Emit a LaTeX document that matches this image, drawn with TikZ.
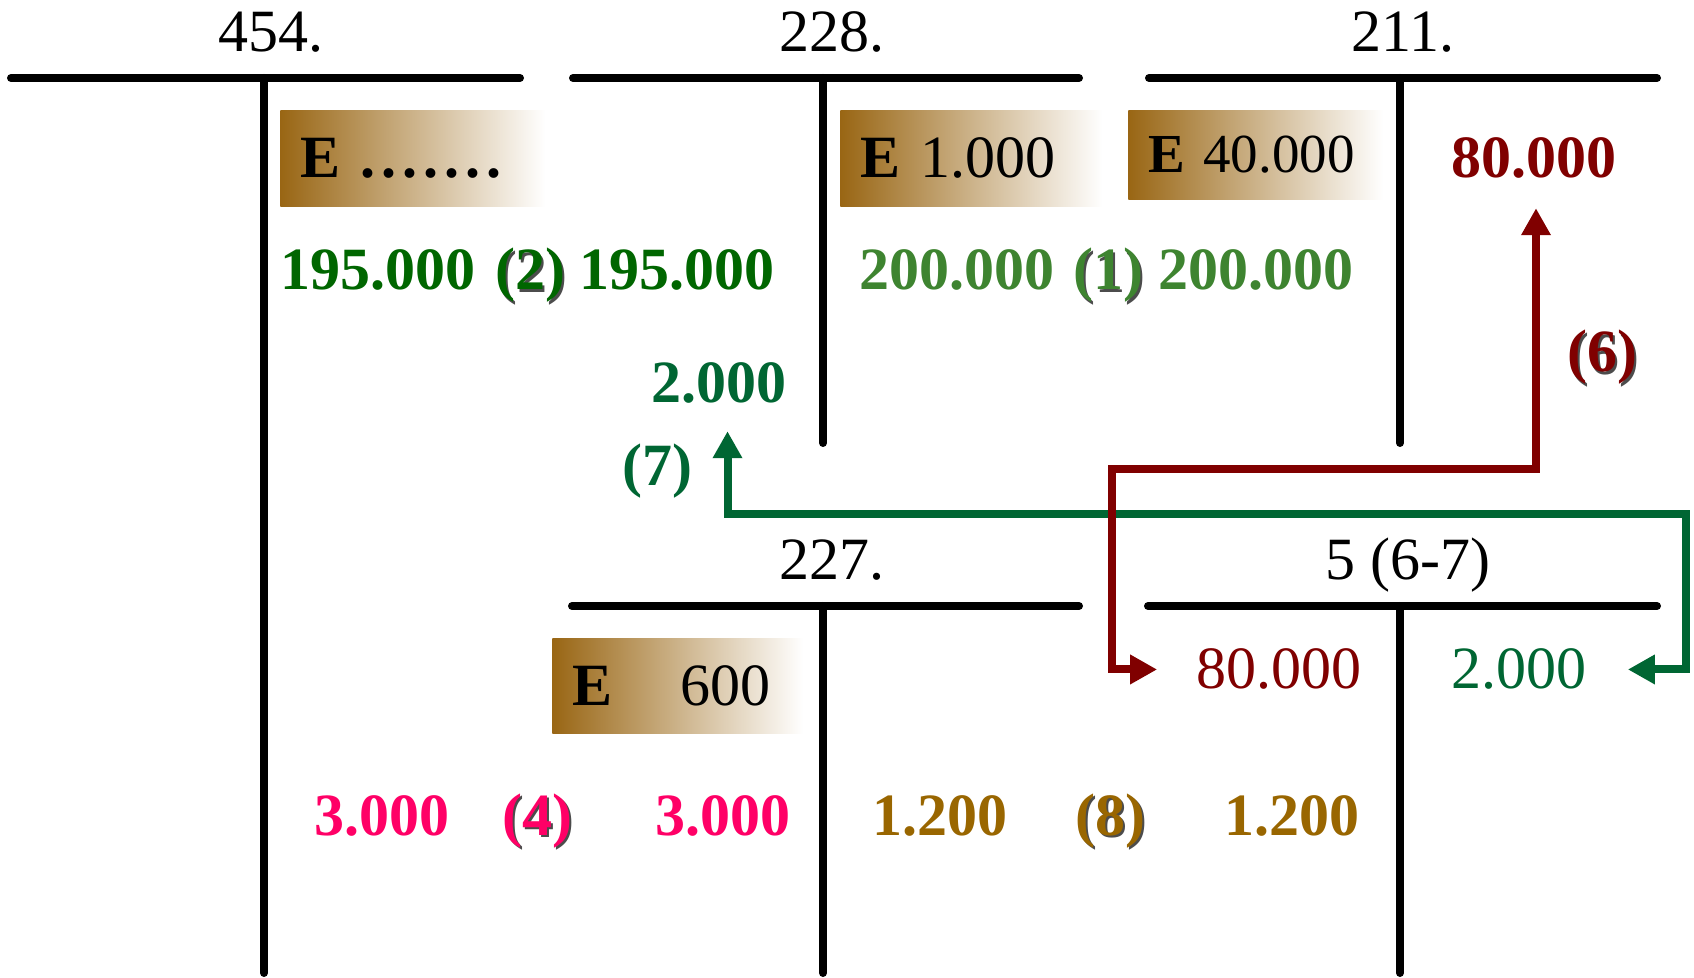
\documentclass[tikz,border=0pt]{standalone}
\usepackage{fontspec}
\setmainfont{Liberation Serif}
\usetikzlibrary{arrows.meta}

\definecolor{boxbrown}{RGB}{153,102,20}
\definecolor{darkgreen}{RGB}{0,102,0}
\definecolor{softgreen}{RGB}{62,132,48}
\definecolor{flowgreen}{RGB}{0,102,51}
\definecolor{flowred}{RGB}{128,0,0}
\definecolor{hotpink}{RGB}{255,0,102}
\definecolor{goldbrown}{RGB}{153,102,0}

\newcommand{\shadowtext}[1]{\rlap{\kern1.2pt\raisebox{-1.2pt}{\color{black!70}#1}}#1}

\begin{document}
\begin{tikzpicture}[x=0.5pt, y=-0.5pt,
            tline/.style={line width=4pt, line cap=round},
            titlenode/.style={anchor=base, inner sep=0pt, font=\fontsize{30}{34}\selectfont},
            amountnode/.style={anchor=base, inner sep=0pt, font=\bfseries\fontsize{30}{34}\selectfont},
            plainamountnode/.style={anchor=base, inner sep=0pt, font=\fontsize{30}{34}\selectfont},
            brownshadednode/.style={rectangle, anchor=north west, left color=boxbrown, right color=white, inner xsep=10pt, inner ysep=0pt, align=left, font=\fontsize{30}{34}\selectfont},
            redflow/.style={draw=flowred, line width=4pt, {Triangle[length=13.5pt,width=14pt]}-{Triangle[length=13.5pt,width=14pt]}},
            greenflow/.style={draw=flowgreen, line width=4pt, {Triangle[length=13.5pt,width=14pt]}-{Triangle[length=13.5pt,width=14pt]}},
            ]
            \useasboundingbox (0,0) rectangle (1694,978);

            % T accounts
            \draw[tline] (11,78) -- (520,78);
            \draw[tline] (264,78) -- (264,973);
            \draw[tline] (573,78) -- (1079,78);
            \draw[tline] (823,78) -- (823,443);
            \draw[tline] (1149,78) -- (1657,78);
            \draw[tline] (1400,78) -- (1400,443);
            \draw[tline] (572,606) -- (1079,606);
            \draw[tline] (823,606) -- (823,973);
            \draw[tline] (1148,606) -- (1657,606);
            \draw[tline] (1400,606) -- (1400,973);

            \node[titlenode] (T454) at (271,52) {454.};
            \node[titlenode] (T228) at (832,52) {228.};
            \node[titlenode] (T211) at (1403,52) {211.};
            \node[titlenode] (T227) at (832,580) {227.};
            \node[titlenode] (T5) at (1408,580) {5 (6-7)};

            % opening balances
            \node[brownshadednode, text width=112.5pt, minimum height=48pt] (E454) at (280,110) {\textbf{E} \textbf{.\kern3pt.\kern3pt.\kern3pt.\kern3pt.\kern3pt.\kern3pt.}};
            \node[brownshadednode, text width=111pt, minimum height=48pt] (E228) at (840,110) {\textbf{E} 1.000};
            \node[brownshadednode, text width=107.5pt, minimum height=44.5pt, font=\fontsize{27.5}{31}\selectfont] (E211) at (1128,110) {\textbf{E} 40.000};
            \node[brownshadednode, text width=105.5pt, minimum height=47.5pt] (E227) at (552,638) {\textbf{E}\hspace{34pt}600};

            % (2) and (1)
            \node[amountnode, text=darkgreen] (A454) at (378,290) {195.000};
            \node[amountnode, text=darkgreen] (L2) at (530,290) {\shadowtext{(2)}};
            \node[amountnode, text=darkgreen] (A228) at (677,290) {195.000};
            \node[amountnode, text=softgreen] (B228) at (957,290) {200.000};
            \node[amountnode, text=softgreen] (L1) at (1108,290) {\shadowtext{(1)}};
            \node[amountnode, text=softgreen] (B211) at (1256,290) {200.000};

            % (6) and (7)
            \node[amountnode, text=flowred] (R211) at (1534,178) {80.000};
            \node[amountnode, text=flowred] (L6) at (1602,372) {\shadowtext{(6)}};
            \node[amountnode, text=flowgreen] (G228) at (719,403) {2.000};
            \node[amountnode, text=flowgreen] (L7) at (657,486) {(7)};
            \node[plainamountnode, text=flowred] (R5) at (1279,689) {80.000};
            \node[plainamountnode, text=flowgreen] (G5) at (1519,689) {2.000};

            \coordinate (gbend) at (1686,514);
            \coordinate (rbend) at (1112,469);
            \draw[greenflow] ([xshift=20.5pt]G5.east) -| (gbend) -| ([xshift=4.25pt,yshift=-13.5pt]G228.south);
            \draw[redflow] ([xshift=1pt,yshift=-14.5pt]R211.south) |- (rbend) |- ([xshift=-19.5pt]R5.west);

            % (4) and (8)
            \node[amountnode, text=hotpink] (P454) at (382,835) {3.000};
            \node[amountnode, text=hotpink] (L4) at (537,835) {\shadowtext{(4)}};
            \node[amountnode, text=hotpink] (P227) at (723,835) {3.000};
            \node[amountnode, text=goldbrown] (Q227) at (940,835) {1.200};
            \node[amountnode, text=goldbrown] (L8) at (1110,835) {\shadowtext{(8)}};
            \node[amountnode, text=goldbrown] (Q5) at (1292,835) {1.200};
        \end{tikzpicture}
\end{document}
